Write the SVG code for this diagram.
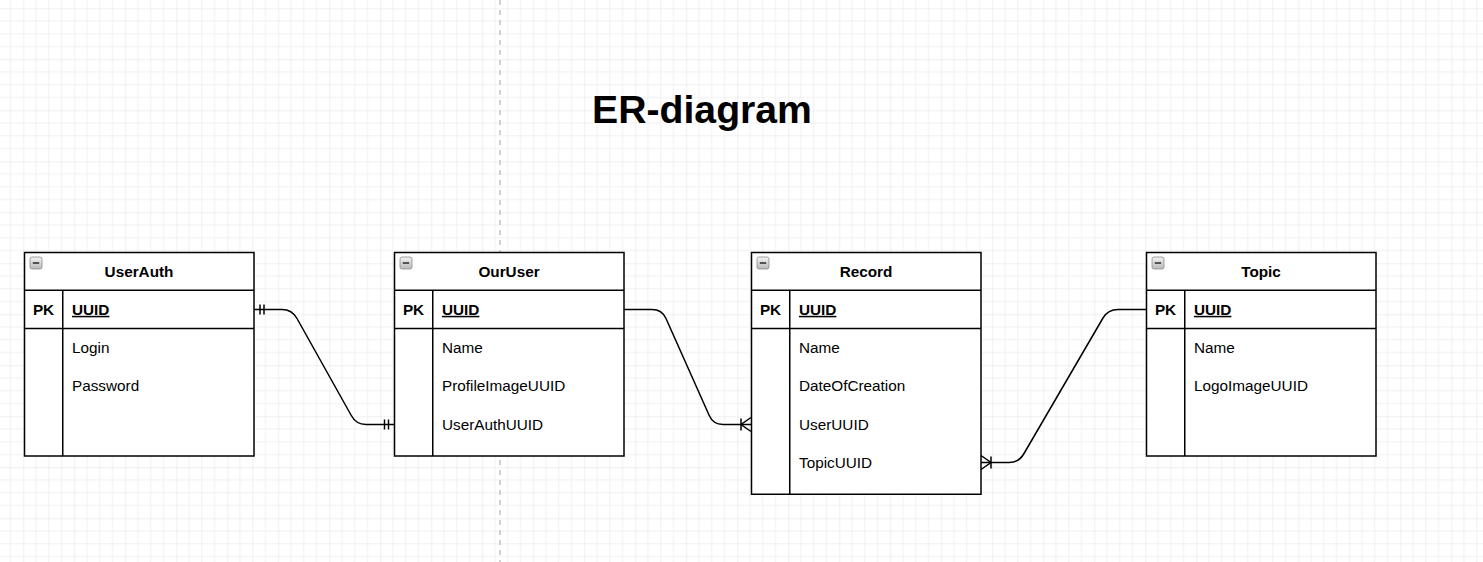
<svg xmlns="http://www.w3.org/2000/svg" width="1483" height="562" viewBox="0 0 1483 562">
<style>
.box{fill:#ffffff;stroke:#000000;stroke-width:1.5}
.ln{stroke:#000000;stroke-width:1.5;fill:none}
.hd{font-family:"Liberation Sans",Arial,sans-serif;font-size:15.3px;font-weight:bold;fill:#000000}
.tx{font-family:"Liberation Sans",Arial,sans-serif;font-size:15.3px;fill:#000000}
.ttl{font-family:"Liberation Sans",Arial,sans-serif;font-size:39.2px;font-weight:bold;fill:#000000}
.edge{stroke:#000000;stroke-width:1.5;fill:none}
</style>
<defs>
<pattern id="grid" patternUnits="userSpaceOnUse" x="23.3" y="8.3" width="51" height="51">
<rect width="51" height="51" fill="#ffffff"/>
<g stroke="#f1f1f1" stroke-width="1">
<line x1="12.75" y1="0" x2="12.75" y2="51"/>
<line x1="25.5" y1="0" x2="25.5" y2="51"/>
<line x1="38.25" y1="0" x2="38.25" y2="51"/>
<line x1="0" y1="12.75" x2="51" y2="12.75"/>
<line x1="0" y1="25.5" x2="51" y2="25.5"/>
<line x1="0" y1="38.25" x2="51" y2="38.25"/>
</g>
<g stroke="#e2e2e2" stroke-width="1">
<line x1="0" y1="0" x2="0" y2="51"/>
<line x1="0" y1="0" x2="51" y2="0"/>
</g>
</pattern>
<linearGradient id="ico" x1="0" y1="0" x2="0" y2="1">
<stop offset="0" stop-color="#f4f4f4"/>
<stop offset="1" stop-color="#b8b8b8"/>
</linearGradient>
<g id="icon">
<rect x="0" y="0" width="12" height="12" rx="2" fill="url(#ico)" stroke="#8a8a8a" stroke-width="0.8"/>
<rect x="2.8" y="5.2" width="6.4" height="1.6" fill="#333333"/>
</g>
</defs>
<rect x="0" y="0" width="1483" height="562" fill="url(#grid)"/>
<line x1="500" y1="0" x2="500" y2="562" stroke="#c4c4c4" stroke-width="1.5" stroke-dasharray="5,5"/>

<g id="title">
<text class="ttl" x="702" y="123" text-anchor="middle">ER-diagram</text>
</g>

<g id="UserAuth">
<rect class="box" x="24.5" y="252.5" width="229.5" height="203.5"/>
<line class="ln" x1="24.5" y1="290.25" x2="254" y2="290.25"/>
<line class="ln" x1="24.5" y1="328.5" x2="254" y2="328.5"/>
<line class="ln" x1="62.75" y1="290.25" x2="62.75" y2="456"/>
<use href="#icon" x="30" y="257"/>
<text class="hd" x="139" y="276.5" text-anchor="middle">UserAuth</text>
<text class="hd" x="43.5" y="314.8" text-anchor="middle">PK</text>
<text class="hd" x="72" y="314.8" text-decoration="underline">UUID</text>
<text class="tx" x="72" y="353">Login</text>
<text class="tx" x="72" y="391.3">Password</text>
</g>

<g id="OurUser">
<rect class="box" x="394.5" y="252.5" width="229.5" height="203.5"/>
<line class="ln" x1="394.5" y1="290.25" x2="624" y2="290.25"/>
<line class="ln" x1="394.5" y1="328.5" x2="624" y2="328.5"/>
<line class="ln" x1="432.75" y1="290.25" x2="432.75" y2="456"/>
<use href="#icon" x="400" y="257"/>
<text class="hd" x="509" y="276.5" text-anchor="middle">OurUser</text>
<text class="hd" x="413.5" y="314.8" text-anchor="middle">PK</text>
<text class="hd" x="442" y="314.8" text-decoration="underline">UUID</text>
<text class="tx" x="442" y="353">Name</text>
<text class="tx" x="442" y="391.3">ProfileImageUUID</text>
<text class="tx" x="442" y="429.5">UserAuthUUID</text>
</g>

<g id="Record">
<rect class="box" x="751.5" y="252.5" width="229.5" height="241.75"/>
<line class="ln" x1="751.5" y1="290.25" x2="981" y2="290.25"/>
<line class="ln" x1="751.5" y1="328.5" x2="981" y2="328.5"/>
<line class="ln" x1="789.75" y1="290.25" x2="789.75" y2="494.25"/>
<use href="#icon" x="757" y="257"/>
<text class="hd" x="866" y="276.5" text-anchor="middle">Record</text>
<text class="hd" x="770.5" y="314.8" text-anchor="middle">PK</text>
<text class="hd" x="799" y="314.8" text-decoration="underline">UUID</text>
<text class="tx" x="799" y="353">Name</text>
<text class="tx" x="799" y="391.3">DateOfCreation</text>
<text class="tx" x="799" y="429.5">UserUUID</text>
<text class="tx" x="799" y="467.8">TopicUUID</text>
</g>

<g id="Topic">
<rect class="box" x="1146.5" y="252.5" width="229.5" height="203.5"/>
<line class="ln" x1="1146.5" y1="290.25" x2="1376" y2="290.25"/>
<line class="ln" x1="1146.5" y1="328.5" x2="1376" y2="328.5"/>
<line class="ln" x1="1184.75" y1="290.25" x2="1184.75" y2="456"/>
<use href="#icon" x="1152" y="257"/>
<text class="hd" x="1261" y="276.5" text-anchor="middle">Topic</text>
<text class="hd" x="1165.5" y="314.8" text-anchor="middle">PK</text>
<text class="hd" x="1194" y="314.8" text-decoration="underline">UUID</text>
<text class="tx" x="1194" y="353">Name</text>
<text class="tx" x="1194" y="391.3">LogoImageUUID</text>
</g>

<g id="connectors">
<path class="edge" d="M254,309.5 L282,309.5 Q292,309.5 297,318.5 L351,415 Q356,424.5 366,424.5 L394,424.5"/>
<line class="edge" x1="260" y1="304.5" x2="260" y2="314.5"/>
<line class="edge" x1="264" y1="304.5" x2="264" y2="314.5"/>
<line class="edge" x1="384.5" y1="419.5" x2="384.5" y2="429.5"/>
<line class="edge" x1="388.5" y1="419.5" x2="388.5" y2="429.5"/>

<path class="edge" d="M624,309.5 L652,309.5 Q662,309.5 666,318.5 L709,415 Q713,424.5 723,424.5 L751,424.5"/>
<path class="edge" d="M751,417.5 L741,424.5 L751,431.5"/>
<line class="edge" x1="741" y1="418.5" x2="741" y2="430.5"/>

<path class="edge" d="M1146,309.5 L1118,309.5 Q1108,309.5 1103,318 L1024,453.5 Q1019,462.5 1009,462.5 L981,462.5"/>
<path class="edge" d="M981,455.5 L991,462.5 L981,469.5"/>
<line class="edge" x1="991" y1="456.5" x2="991" y2="468.5"/>
</g>
</svg>
